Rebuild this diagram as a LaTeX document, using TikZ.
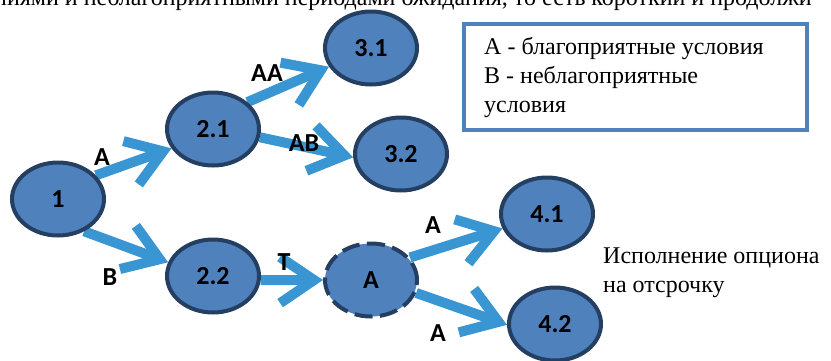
\documentclass[tikz,border=0pt]{standalone}
\usepackage{fontspec}
\setmainfont{Liberation Serif}
\newfontfamily\lblfont{Carlito}[BoldFont={* Bold}]
\usetikzlibrary{arrows.meta,shapes.geometric,backgrounds}
\definecolor{nodefill}{RGB}{79,129,189}
\definecolor{nodeline}{RGB}{36,63,97}
\definecolor{arrowblue}{RGB}{57,150,211}
\definecolor{boxline}{RGB}{79,129,189}
\begin{document}
\begin{tikzpicture}[x=1pt,y=-1pt,
  state/.style={ellipse, draw=nodeline, fill=nodefill, line width=4pt,
    minimum width=92pt, minimum height=73pt, inner sep=0pt,
    font=\lblfont\bfseries\fontsize{26}{28}\selectfont},
  flow/.style={draw=arrowblue, line width=10pt,
    -{Straight Barb[length=34pt,width=46pt]}},
  elabel/.style={font=\lblfont\bfseries\fontsize{26}{28}\selectfont, inner sep=0pt},
  txt/.style={font=\fontsize{24}{29}\selectfont, align=left, inner sep=0pt},
  legendbox/.style={draw=boxline, line width=4pt, fill=white, inner sep=0pt}]
\useasboundingbox (0,0) rectangle (831,360);

\node[font=\fontsize{24}{29}\selectfont, anchor=base west, inner sep=0pt] (toptext) at (-6,5)
  {ниями и неблагоприятными периодами ожидания, то есть короткий и продолжи};

\node[state] (n1) at (58,199) {1};
\node[state] (n21) at (213,129) {2.1};
\node[state] (n22) at (213,276) {2.2};
\node[state] (n31) at (371,48) {3.1};
\node[state] (n32) at (401,154) {3.2};
\node[state, dash pattern=on 18pt off 7.5pt] (nA) at (371,280) {A};
\node[state] (n41) at (547,214) {4.1};
\node[state] (n42) at (555,324) {4.2};

\begin{scope}[on background layer]
\draw[flow] (n1.32) -- (n21.205);
\draw[flow] (n1.309) -- (n22.163);
\draw[flow] (n21.38) -- (n31.204);
\draw[flow] (n21.350) -- (n32.184);
\draw[flow] (n22.-5) -- (nA.180);
\draw[flow] (nA.30) -- (n41.198);
\draw[flow] (nA.344) -- (n42.181);
\end{scope}

\node[elabel] (l1) at (102,157) {A};
\node[elabel] (l2) at (110,277) {B};
\node[elabel] (l3) at (267,73) {AA};
\node[elabel] (l4) at (304,143) {AB};
\node[elabel] (l5) at (284,262) {T};
\node[elabel] (l6) at (433,225) {A};
\node[elabel] (l7) at (438,333) {A};

\node[legendbox, minimum width=343pt, minimum height=106pt] (legend) at (635.5,77) {};
\node[txt, anchor=west] (legtext) at (484,77)
  {А - благоприятные условия\\В - неблагоприятные\\условия};

\node[txt, anchor=west] (exec) at (603,272.5) {Исполнение опциона\\на отсрочку};
\end{tikzpicture}
\end{document}
